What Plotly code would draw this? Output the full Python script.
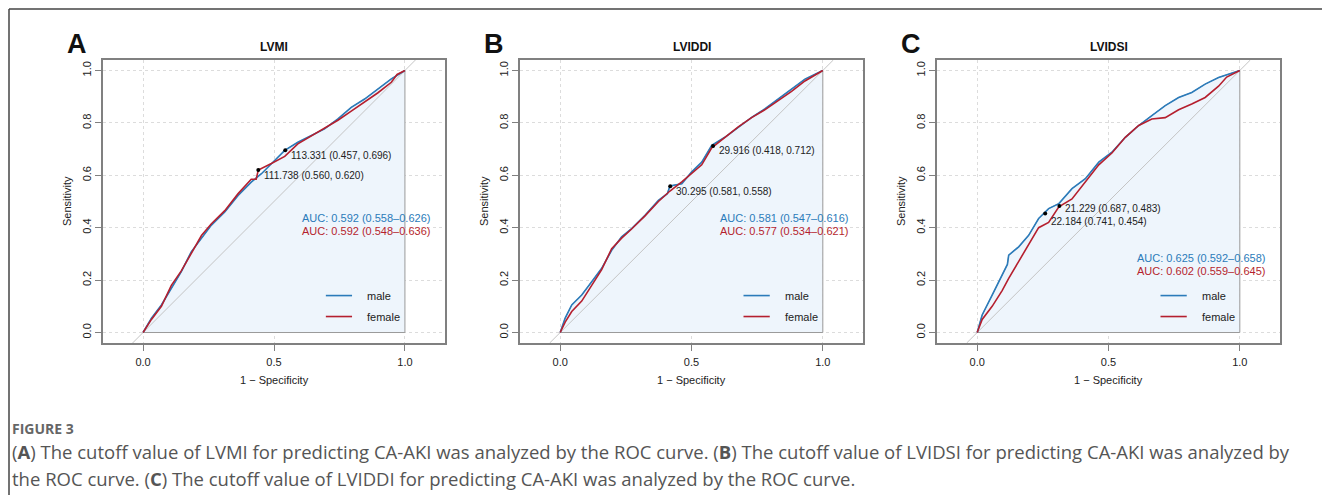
import plotly.graph_objects as go

W, H = 1322, 495

# ---------------- data ----------------
panel_letters = ["A", "B", "C"]
panel_titles = ["LVMI", "LVIDDI", "LVIDSI"]
groups = ["male", "female"]

# 1 - specificity (x) and sensitivity (y)
A_male_x = [0, 0.032, 0.07, 0.108, 0.146, 0.184, 0.223, 0.261, 0.312, 0.363, 0.413, 0.452, 0.49, 0.541, 0.591, 0.642, 0.693, 0.744, 0.795, 0.846, 0.897, 0.948, 1.0]
A_male_y = [0, 0.055, 0.105, 0.169, 0.232, 0.308, 0.359, 0.41, 0.46, 0.523, 0.574, 0.606, 0.644, 0.695, 0.726, 0.752, 0.777, 0.815, 0.859, 0.891, 0.929, 0.968, 1.0]
A_female_x = [0, 0.032, 0.07, 0.108, 0.146, 0.184, 0.223, 0.261, 0.312, 0.363, 0.413, 0.432, 0.44, 0.49, 0.541, 0.591, 0.642, 0.693, 0.744, 0.795, 0.846, 0.897, 0.948, 0.97, 1.0]
A_female_y = [0, 0.05, 0.10, 0.18, 0.235, 0.30, 0.37, 0.415, 0.465, 0.53, 0.585, 0.585, 0.62, 0.645, 0.672, 0.72, 0.75, 0.78, 0.81, 0.845, 0.88, 0.915, 0.955, 0.985, 1.0]

B_male_x = [0, 0.019, 0.044, 0.082, 0.12, 0.158, 0.196, 0.234, 0.272, 0.323, 0.374, 0.408, 0.418, 0.463, 0.5, 0.539, 0.577, 0.627, 0.678, 0.729, 0.779, 0.83, 0.881, 0.932, 1.0]
B_male_y = [0, 0.055, 0.105, 0.143, 0.194, 0.245, 0.314, 0.365, 0.397, 0.447, 0.504, 0.53, 0.559, 0.568, 0.612, 0.650, 0.714, 0.745, 0.783, 0.821, 0.853, 0.891, 0.929, 0.967, 1.0]
B_female_x = [0, 0.019, 0.044, 0.082, 0.12, 0.158, 0.196, 0.234, 0.272, 0.323, 0.374, 0.418, 0.463, 0.5, 0.539, 0.577, 0.627, 0.678, 0.729, 0.779, 0.83, 0.881, 0.932, 1.0]
B_female_y = [0, 0.04, 0.08, 0.12, 0.18, 0.24, 0.32, 0.36, 0.395, 0.445, 0.50, 0.54, 0.575, 0.605, 0.64, 0.705, 0.745, 0.785, 0.82, 0.85, 0.885, 0.92, 0.96, 1.0]

C_male_x = [0, 0.019, 0.057, 0.095, 0.115, 0.12, 0.158, 0.196, 0.234, 0.272, 0.311, 0.361, 0.412, 0.463, 0.513, 0.564, 0.615, 0.665, 0.716, 0.767, 0.817, 0.868, 0.919, 1.0]
C_male_y = [0, 0.067, 0.143, 0.219, 0.26, 0.295, 0.327, 0.371, 0.435, 0.473, 0.492, 0.549, 0.587, 0.650, 0.688, 0.745, 0.79, 0.828, 0.866, 0.897, 0.916, 0.948, 0.973, 1.0]
C_female_x = [0, 0.019, 0.057, 0.095, 0.12, 0.158, 0.196, 0.234, 0.272, 0.311, 0.361, 0.412, 0.463, 0.513, 0.564, 0.615, 0.665, 0.716, 0.767, 0.817, 0.868, 0.919, 0.95, 1.0]
C_female_y = [0, 0.05, 0.10, 0.16, 0.207, 0.27, 0.333, 0.40, 0.42, 0.48, 0.51, 0.574, 0.64, 0.685, 0.745, 0.79, 0.815, 0.82, 0.85, 0.872, 0.897, 0.94, 0.975, 1.0]

# best thresholds: threshold, specificity, sensitivity
A_thr = ["113.331", "111.738"]; A_spec = [0.457, 0.560]; A_sens = [0.696, 0.620]
B_thr = ["29.916", "30.295"];   B_spec = [0.418, 0.581]; B_sens = [0.712, 0.558]
C_thr = ["21.229", "22.184"];   C_spec = [0.687, 0.741]; C_sens = [0.483, 0.454]

# AUC (95% CI): male, female
A_auc = [(0.592, 0.558, 0.626), (0.592, 0.548, 0.636)]
B_auc = [(0.581, 0.547, 0.616), (0.577, 0.534, 0.621)]
C_auc = [(0.625, 0.592, 0.658), (0.602, 0.559, 0.645)]

x_ticks = [0.0, 0.5, 1.0]
y_ticks = [0.0, 0.2, 0.4, 0.6, 0.8, 1.0]

caption_head = "FIGURE 3"
caption_l1 = ("(<b>A</b>) The cutoff value of LVMI for predicting CA-AKI was analyzed by the ROC curve. "
              "(<b>B</b>) The cutoff value of LVIDSI for predicting CA-AKI was analyzed by")
caption_l2 = "the ROC curve. (<b>C</b>) The cutoff value of LVIDDI for predicting CA-AKI was analyzed by the ROC curve."

# ---------------- style ----------------
BLUE = "#2B7BBA"
RED = "#B51F2E"
FILL = "#EEF5FC"
FONT = "Liberation Sans, Arial, sans-serif"

panels = [
    dict(mx=A_male_x, my=A_male_y, fx=A_female_x, fy=A_female_y, thr=A_thr, spec=A_spec, sens=A_sens,
         auc=A_auc, auc_y=[0.437, 0.388], box=(103, 445), lab_shift=[-5, -5]),
    dict(mx=B_male_x, my=B_male_y, fx=B_female_x, fy=B_female_y, thr=B_thr, spec=B_spec, sens=B_sens,
         auc=B_auc, auc_y=[0.437, 0.388], box=(520, 863), lab_shift=[-5, -5]),
    dict(mx=C_male_x, my=C_male_y, fx=C_female_x, fy=C_female_y, thr=C_thr, spec=C_spec, sens=C_sens,
         auc=C_auc, auc_y=[0.285, 0.236], box=(937, 1280), lab_shift=[-3, -8]),
]

BOX_TOP, BOX_BOT = 60, 343
XR = [-0.153, 1.153]
YR = [-0.04, 1.04]


def px(x):
    return x / W


def py(y):
    return 1 - y / H


fig = go.Figure()
annotations = []
shapes = []

for i, p in enumerate(panels):
    n = "" if i == 0 else str(i + 1)
    xa, ya = "x" + n, "y" + n
    # AUC polygon under the first curve
    fig.add_trace(go.Scatter(x=p["mx"] + [p["mx"][-1], p["mx"][0]], y=p["my"] + [0, 0],
                             xaxis=xa, yaxis=ya, mode="lines", fill="toself",
                             fillcolor=FILL, line=dict(color="#9a9a9a", width=1),
                             hoverinfo="skip", showlegend=False))
    # identity line
    fig.add_trace(go.Scatter(x=[YR[0], YR[1]], y=[YR[0], YR[1]], xaxis=xa, yaxis=ya,
                             mode="lines", line=dict(color="#c4c4c4", width=1),
                             hoverinfo="skip", showlegend=False))
    fig.add_trace(go.Scatter(x=p["mx"], y=p["my"], xaxis=xa, yaxis=ya, mode="lines",
                             line=dict(color=BLUE, width=1.6), name="male", showlegend=False))
    fig.add_trace(go.Scatter(x=p["fx"], y=p["fy"], xaxis=xa, yaxis=ya, mode="lines",
                             line=dict(color=RED, width=1.6), name="female", showlegend=False))
    tx = [1 - s for s in p["spec"]]
    fig.add_trace(go.Scatter(x=tx, y=p["sens"], xaxis=xa, yaxis=ya, mode="markers",
                             marker=dict(color="black", size=4), showlegend=False,
                             cliponaxis=False))
    for t, s, se, xx, ys in zip(p["thr"], p["spec"], p["sens"], tx, p["lab_shift"]):
        annotations.append(dict(x=xx, y=se, xref=xa, yref=ya, text=f"{t} ({s:.3f}, {se:.3f})",
                                showarrow=False, xanchor="left", yanchor="middle",
                                xshift=4, yshift=ys, font=dict(family=FONT, size=10, color="#222")))
    for (a, lo, hi), yy, col in zip(p["auc"], p["auc_y"], [BLUE, RED]):
        annotations.append(dict(x=0.6, y=yy, xref=xa, yref=ya,
                                text=f"AUC: {a:.3f} ({lo:.3f}–{hi:.3f})", showarrow=False,
                                xanchor="left", yanchor="middle",
                                font=dict(family=FONT, size=11, color=col)))
    # legend
    for g, yy, col in zip(groups, [0.141, 0.061], [BLUE, RED]):
        shapes.append(dict(type="line", xref=xa, yref=ya, x0=0.698, x1=0.798, y0=yy, y1=yy,
                           line=dict(color=col, width=1.6)))
        annotations.append(dict(x=0.847, y=yy, xref=xa, yref=ya, text=g, showarrow=False,
                                xanchor="left", yanchor="middle",
                                font=dict(family=FONT, size=11, color="#222")))
    x0, x1 = p["box"]
    cx = x0 + (0.5 - XR[0]) / (XR[1] - XR[0]) * (x1 - x0)
    # title, letter, axis titles
    annotations.append(dict(x=px(cx), y=py(47), xref="paper", yref="paper", text="<b>" + panel_titles[i] + "</b>",
                            showarrow=False, xanchor="center", yanchor="middle",
                            font=dict(family=FONT, size=12, color="#111")))
    annotations.append(dict(x=px(x0 - 26), y=py(44), xref="paper", yref="paper", text="<b>" + panel_letters[i] + "</b>",
                            showarrow=False, xanchor="center", yanchor="middle",
                            font=dict(family=FONT, size=27, color="#111")))
    annotations.append(dict(x=px(cx), y=py(380), xref="paper", yref="paper", text="1 − Specificity",
                            showarrow=False, xanchor="center", yanchor="middle",
                            font=dict(family=FONT, size=11, color="#222")))
    annotations.append(dict(x=px(x0 - 36), y=py(201), xref="paper", yref="paper", text="Sensitivity",
                            showarrow=False, xanchor="center", yanchor="middle", textangle=-90,
                            font=dict(family=FONT, size=11, color="#222")))

    axis_common = dict(showline=True, mirror=True, linecolor="#808080", linewidth=1.5,
                       ticks="outside", ticklen=6, tickcolor="#808080", tickwidth=1,
                       showgrid=True, gridcolor="#dcdcdc", griddash="dot", gridwidth=1,
                       zeroline=False, tickfont=dict(family=FONT, size=11, color="#222"))
    fig.update_layout(**{
        "xaxis" + n: dict(domain=[px(x0), px(x1)], range=XR, tickvals=x_ticks,
                          ticktext=[f"{v:.1f}" for v in x_ticks], anchor=ya,
                          ticklabelstandoff=2, **axis_common),
        "yaxis" + n: dict(domain=[py(BOX_BOT), py(BOX_TOP)], range=YR, tickvals=y_ticks,
                          ticktext=[f"{v:.1f}" for v in y_ticks], anchor=xa, tickangle=-90,
                          ticklabelstandoff=0, **axis_common),
    })

# outer frame (top and left edges)
shapes.append(dict(type="line", xref="paper", yref="paper", x0=px(9), x1=1.0, y0=py(9), y1=py(9),
                   line=dict(color="#444", width=1.5)))
shapes.append(dict(type="line", xref="paper", yref="paper", x0=px(9), x1=px(9), y0=py(9), y1=0,
                   line=dict(color="#444", width=1.5)))

CAP = "Open Sans, sans-serif"
annotations.append(dict(x=px(10), y=py(428), xref="paper", yref="paper", text="<b>" + caption_head + "</b>",
                        showarrow=False, xanchor="left", yanchor="middle",
                        font=dict(family=CAP, size=14, color="#666")))
annotations.append(dict(x=px(10), y=py(451), xref="paper", yref="paper", text=caption_l1,
                        showarrow=False, xanchor="left", yanchor="middle",
                        font=dict(family=CAP, size=18.5, color="#555")))
annotations.append(dict(x=px(10), y=py(478), xref="paper", yref="paper", text=caption_l2,
                        showarrow=False, xanchor="left", yanchor="middle",
                        font=dict(family=CAP, size=18.5, color="#555")))

fig.update_layout(width=W, height=H, margin=dict(l=0, r=0, t=0, b=0),
                  paper_bgcolor="white", plot_bgcolor="white",
                  annotations=annotations, shapes=shapes, showlegend=False)

fig.write_html("out.html", config={"displayModeBar": False},
               post_script="document.body.style.margin='0px';")
